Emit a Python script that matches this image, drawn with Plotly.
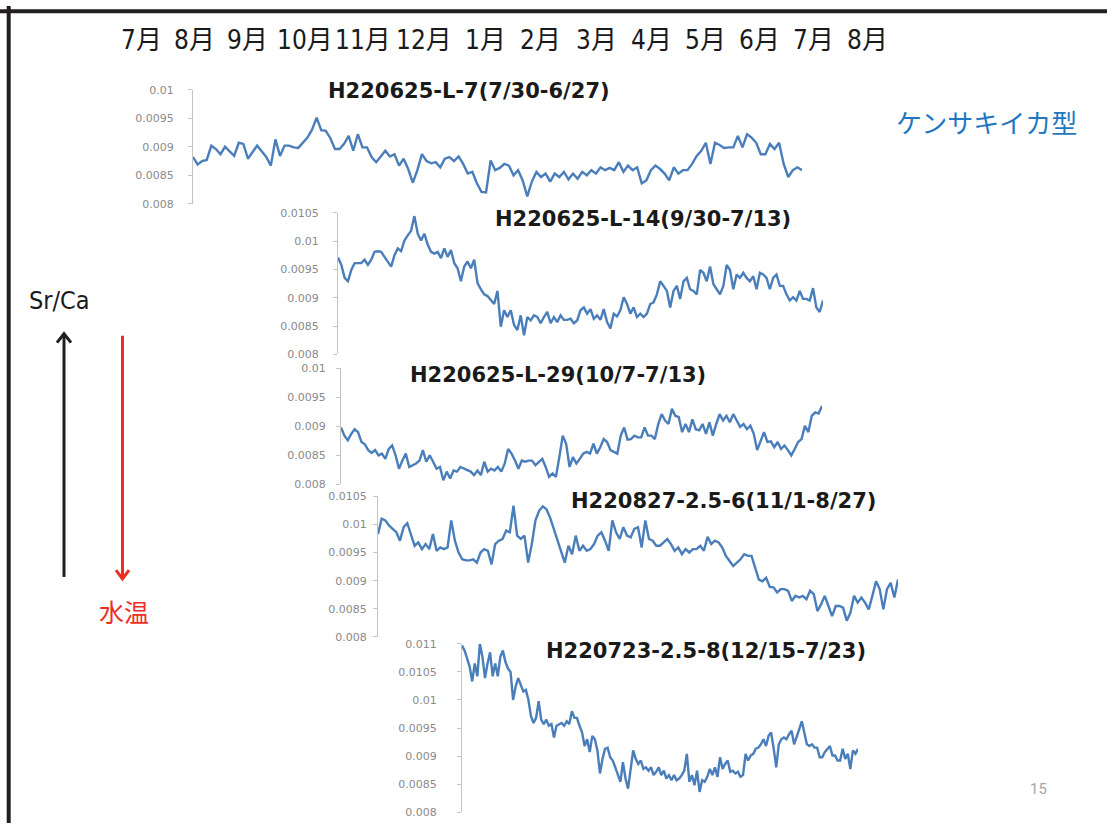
import plotly.graph_objects as go

W, H = 1107, 830

months = ["7月", "8月", "9月", "10月", "11月", "12月", "1月", "2月", "3月", "4月", "5月", "6月", "7月", "8月"]

titles = ["H220625-L-7(7/30-6/27)", "H220625-L-14(9/30-7/13)", "H220625-L-29(10/7-7/13)",
          "H220827-2.5-6(11/1-8/27)", "H220723-2.5-8(12/15-7/23)"]

tick_010 = [0.008, 0.0085, 0.009, 0.0095, 0.01]
tick_010_text = ["0.008", "0.0085", "0.009", "0.0095", "0.01"]
tick_0105 = [0.008, 0.0085, 0.009, 0.0095, 0.01, 0.0105]
tick_0105_text = ["0.008", "0.0085", "0.009", "0.0095", "0.01", "0.0105"]
tick_011 = [0.008, 0.0085, 0.009, 0.0095, 0.01, 0.0105, 0.011]
tick_011_text = ["0.008", "0.0085", "0.009", "0.0095", "0.01", "0.0105", "0.011"]

s1 = [0.00882, 0.00869, 0.00875, 0.00877, 0.00902, 0.00896, 0.00887, 0.00900, 0.00892, 0.00884,
      0.00907, 0.00905, 0.00879, 0.00890, 0.00902, 0.00892, 0.00882, 0.00867, 0.00913, 0.00884,
      0.00902, 0.00902, 0.00899, 0.00898, 0.00907, 0.00916, 0.00930, 0.00951, 0.00929, 0.00928,
      0.00915, 0.00896, 0.00896, 0.00905, 0.00919, 0.00893, 0.00922, 0.00899, 0.00899, 0.00882,
      0.00873, 0.00884, 0.00893, 0.00883, 0.00887, 0.00867, 0.00879, 0.00861, 0.00837, 0.00859,
      0.00887, 0.00875, 0.00871, 0.00873, 0.00864, 0.00879, 0.00882, 0.00875, 0.00883, 0.00870,
      0.00853, 0.00856, 0.00836, 0.00821, 0.00820, 0.00876, 0.00859, 0.00863, 0.00870, 0.00867,
      0.00850, 0.00859, 0.00841, 0.00813, 0.00839, 0.00856, 0.00847, 0.00853, 0.00839, 0.00853,
      0.00847, 0.00856, 0.00843, 0.00853, 0.00844, 0.00856, 0.00850, 0.00859, 0.00853, 0.00864,
      0.00859, 0.00863, 0.00859, 0.00873, 0.00856, 0.00867, 0.00859, 0.00864, 0.00836, 0.00841,
      0.00859, 0.00867, 0.00861, 0.00853, 0.00841, 0.00864, 0.00853, 0.00859, 0.00859, 0.00870,
      0.00884, 0.00893, 0.00907, 0.00870, 0.00907, 0.00903, 0.00898, 0.00899, 0.00899, 0.00919,
      0.00899, 0.00922, 0.00916, 0.00907, 0.00887, 0.00887, 0.00905, 0.00896, 0.00907, 0.00870,
      0.00847, 0.00859, 0.00864, 0.00859]

s2 = [0.00971, 0.00958, 0.00935, 0.00929, 0.00949, 0.00961, 0.00961, 0.00961, 0.00967, 0.00958,
      0.00967, 0.00981, 0.00982, 0.00981, 0.00972, 0.00964, 0.00955, 0.00975, 0.00987, 0.00982,
      0.01001, 0.01010, 0.01018, 0.01044, 0.01013, 0.01001, 0.01013, 0.00994, 0.00981, 0.00978,
      0.00981, 0.00970, 0.00987, 0.00972, 0.00984, 0.00961, 0.00952, 0.00929, 0.00955, 0.00964,
      0.00952, 0.00967, 0.00926, 0.00915, 0.00906, 0.00903, 0.00895, 0.00889, 0.00912, 0.00849,
      0.00878, 0.00866, 0.00878, 0.00852, 0.00843, 0.00869, 0.00834, 0.00866, 0.00860, 0.00869,
      0.00866, 0.00855, 0.00866, 0.00875, 0.00855, 0.00866, 0.00857, 0.00869, 0.00861, 0.00861,
      0.00863, 0.00855, 0.00860, 0.00878, 0.00883, 0.00872, 0.00880, 0.00863, 0.00869, 0.00861,
      0.00880, 0.00857, 0.00846, 0.00872, 0.00867, 0.00878, 0.00901, 0.00889, 0.00872, 0.00883,
      0.00866, 0.00872, 0.00866, 0.00872, 0.00889, 0.00892, 0.00906, 0.00929, 0.00921, 0.00912,
      0.00883, 0.00912, 0.00921, 0.00898, 0.00929, 0.00935, 0.00915, 0.00912, 0.00906, 0.00949,
      0.00944, 0.00929, 0.00955, 0.00924, 0.00915, 0.00906, 0.00921, 0.00958, 0.00949, 0.00915,
      0.00941, 0.00935, 0.00944, 0.00935, 0.00929, 0.00938, 0.00915, 0.00944, 0.00941, 0.00935,
      0.00915, 0.00935, 0.00941, 0.00921, 0.00921, 0.00906, 0.00895, 0.00901, 0.00895, 0.00912,
      0.00898, 0.00898, 0.00895, 0.00917, 0.00883, 0.00875, 0.00895]

s3 = [0.00898, 0.00884, 0.00876, 0.00887, 0.00895, 0.00890, 0.00873, 0.00869, 0.00859, 0.00854,
      0.00859, 0.00850, 0.00853, 0.00844, 0.00861, 0.00867, 0.00850, 0.00827, 0.00841, 0.00853,
      0.00830, 0.00833, 0.00836, 0.00841, 0.00859, 0.00839, 0.00850, 0.00839, 0.00827, 0.00830,
      0.00807, 0.00822, 0.00810, 0.00824, 0.00822, 0.00830, 0.00827, 0.00824, 0.00822, 0.00816,
      0.00824, 0.00816, 0.00839, 0.00822, 0.00827, 0.00824, 0.00830, 0.00822, 0.00836, 0.00861,
      0.00853, 0.00841, 0.00827, 0.00841, 0.00839, 0.00841, 0.00841, 0.00833, 0.00839, 0.00844,
      0.00830, 0.00813, 0.00819, 0.00813, 0.00847, 0.00884, 0.00870, 0.00830, 0.00847, 0.00836,
      0.00844, 0.00853, 0.00856, 0.00853, 0.00870, 0.00853, 0.00864, 0.00878, 0.00873, 0.00859,
      0.00856, 0.00853, 0.00884, 0.00898, 0.00877, 0.00878, 0.00884, 0.00881, 0.00881, 0.00898,
      0.00884, 0.00884, 0.00878, 0.00904, 0.00921, 0.00910, 0.00904, 0.00930, 0.00918, 0.00916,
      0.00890, 0.00904, 0.00890, 0.00912, 0.00895, 0.00893, 0.00904, 0.00887, 0.00907, 0.00884,
      0.00904, 0.00921, 0.00910, 0.00918, 0.00907, 0.00921, 0.00910, 0.00899, 0.00904, 0.00895,
      0.00901, 0.00887, 0.00859, 0.00873, 0.00890, 0.00873, 0.00874, 0.00864, 0.00873, 0.00861,
      0.00867, 0.00859, 0.00850, 0.00861, 0.00873, 0.00878, 0.00901, 0.00890, 0.00918, 0.00924,
      0.00922, 0.00935]

s4 = [0.00983, 0.01010, 0.01007, 0.00998, 0.00992, 0.00986, 0.00971, 0.00995, 0.01002, 0.00983,
      0.00962, 0.00968, 0.00956, 0.00965, 0.00956, 0.00983, 0.00953, 0.00959, 0.00956, 0.00959,
      0.01007, 0.00971, 0.00950, 0.00938, 0.00936, 0.00936, 0.00938, 0.00932, 0.00950, 0.00956,
      0.00953, 0.00929, 0.00965, 0.00971, 0.00974, 0.00989, 0.00986, 0.01033, 0.00980, 0.00974,
      0.00980, 0.00932, 0.00965, 0.01007, 0.01024, 0.01032, 0.01027, 0.01012, 0.00992, 0.00971,
      0.00953, 0.00932, 0.00962, 0.00947, 0.00980, 0.00953, 0.00962, 0.00953, 0.00956, 0.00965,
      0.00980, 0.00986, 0.00971, 0.00953, 0.01007, 0.00986, 0.00974, 0.00995, 0.00980, 0.00977,
      0.00992, 0.00995, 0.00959, 0.01007, 0.00974, 0.00971, 0.00962, 0.00962, 0.00968, 0.00974,
      0.00965, 0.00953, 0.00959, 0.00947, 0.00956, 0.00950, 0.00956, 0.00956, 0.00962, 0.00953,
      0.00978, 0.00965, 0.00971, 0.00968, 0.00959, 0.00944, 0.00935, 0.00926, 0.00932, 0.00938,
      0.00947, 0.00944, 0.00944, 0.00923, 0.00902, 0.00899, 0.00905, 0.00889, 0.00888, 0.00879,
      0.00885, 0.00885, 0.00882, 0.00864, 0.00873, 0.00870, 0.00873, 0.00867, 0.00882, 0.00876,
      0.00846, 0.00858, 0.00873, 0.00855, 0.00837, 0.00855, 0.00855, 0.00852, 0.00829, 0.00843,
      0.00873, 0.00861, 0.00870, 0.00861, 0.00849, 0.00873, 0.00899, 0.00885, 0.00849, 0.00885,
      0.00896, 0.00870, 0.00902]

s5 = [0.01097, 0.01088, 0.01074, 0.01059, 0.01033, 0.01065, 0.01042, 0.01100, 0.01077, 0.01039,
      0.01065, 0.01085, 0.01042, 0.01065, 0.01042, 0.01077, 0.01088, 0.01068, 0.01056, 0.01050,
      0.01000, 0.01024, 0.01039, 0.01027, 0.01015, 0.01018, 0.01000, 0.00971, 0.00959, 0.00968,
      0.00998, 0.00965, 0.00957, 0.00965, 0.00954, 0.00957, 0.00933, 0.00954, 0.00957, 0.00959,
      0.00954, 0.00962, 0.00957, 0.00980, 0.00968, 0.00968, 0.00954, 0.00942, 0.00918, 0.00930,
      0.00907, 0.00936, 0.00930, 0.00910, 0.00869, 0.00895, 0.00913, 0.00915, 0.00898, 0.00892,
      0.00880, 0.00866, 0.00854, 0.00889, 0.00860, 0.00842, 0.00877, 0.00910, 0.00895, 0.00886,
      0.00892, 0.00877, 0.00880, 0.00874, 0.00880, 0.00866, 0.00872, 0.00880, 0.00866, 0.00874,
      0.00860, 0.00866, 0.00857, 0.00866, 0.00857, 0.00860, 0.00866, 0.00874, 0.00904, 0.00854,
      0.00866, 0.00848, 0.00874, 0.00836, 0.00857, 0.00854, 0.00863, 0.00877, 0.00866, 0.00880,
      0.00863, 0.00898, 0.00877, 0.00886, 0.00892, 0.00872, 0.00874, 0.00869, 0.00872, 0.00863,
      0.00866, 0.00904, 0.00892, 0.00901, 0.00904, 0.00913, 0.00915, 0.00921, 0.00930, 0.00918,
      0.00936, 0.00942, 0.00913, 0.00880, 0.00921, 0.00930, 0.00933, 0.00930, 0.00939, 0.00945,
      0.00921, 0.00933, 0.00948, 0.00962, 0.00942, 0.00921, 0.00918, 0.00921, 0.00915, 0.00915,
      0.00898, 0.00898, 0.00907, 0.00913, 0.00918, 0.00901, 0.00901, 0.00892, 0.00892, 0.00913,
      0.00895, 0.00904, 0.00877, 0.00910, 0.00904, 0.00913]

series = [s1, s2, s3, s4, s5]
tickvals = [tick_010, tick_0105, tick_010, tick_0105, tick_011]
ticktexts = [tick_010_text, tick_0105_text, tick_010_text, tick_0105_text, tick_011_text]

# ---- layout (pixel geometry of each panel) ----
# (x_left, x_right, y_top, y_bottom, title_cx, title_cy, label_standoff)
geom = [
    (193, 802, 85, 201, 469, 86, 12),
    (338, 823, 210, 354, 643, 216, 12),
    (341, 822, 368, 486, 558, 375, 8),
    (378, 898, 498, 641, 723, 503, 4),
    (462, 858, 648, 819, 706, 655, 18),
]


def px(x):
    return x / W


def py(y):
    return 1 - y / H


fig = go.Figure()
annotations = []
LINE = "#4a7ebb"
for i, (s, g) in enumerate(zip(series, geom)):
    k = "" if i == 0 else str(i + 1)
    fig.add_trace(go.Scatter(x=list(range(len(s))), y=s, mode="lines",
                             line=dict(color=LINE, width=2.4),
                             xaxis="x" + k, yaxis="y" + k, showlegend=False,
                             hoverinfo="skip"))
    x0, x1, yt, yb, tcx, tcy, so = g
    fig.layout["xaxis" + k] = dict(domain=[px(x0), px(x1)], range=[0, len(s) - 1],
                                   visible=False, anchor="y" + k, fixedrange=True)
    fig.layout["yaxis" + k] = dict(domain=[py(yb), py(yt)],
                                   range=[tickvals[i][0], tickvals[i][-1]],
                                   anchor="x" + k, showgrid=False, zeroline=False,
                                   showline=True, linecolor="#c4c4c4", linewidth=1,
                                   ticks="outside", ticklen=4, tickcolor="#c4c4c4",
                                   tickvals=tickvals[i], ticktext=ticktexts[i],
                                   ticklabelstandoff=so,
                                   tickfont=dict(family="DejaVu Sans", size=11, color="#8a8a8a"),
                                   fixedrange=True)
    annotations.append(dict(text=titles[i], x=px(tcx), y=py(tcy), xref="paper", yref="paper",
                            showarrow=False, xanchor="center", yanchor="middle",
                            font=dict(family="DejaVu Sans", size=21, color="#1a1a1a",
                                      weight="bold")))

# month header
month_cx = [141, 194, 247, 305, 363, 424, 485, 540, 596, 651, 705, 759, 813, 867]
NARROW = "Liberation Sans Narrow, Arial Narrow, DejaVu Sans Condensed, Noto Sans CJK JP"
for m, cx in zip(months, month_cx):
    annotations.append(dict(text=m, x=px(cx), y=py(35), xref="paper", yref="paper",
                            showarrow=False, xanchor="center", yanchor="middle",
                            font=dict(family=NARROW, size=26, color="#1a1a1a")))

annotations += [
    dict(text="Sr/Ca", x=px(59), y=py(299), xref="paper", yref="paper", showarrow=False,
         xanchor="center", yanchor="middle", font=dict(family=NARROW, size=25, color="#1a1a1a")),
    dict(text="水温", x=px(124), y=py(615), xref="paper", yref="paper", showarrow=False,
         xanchor="center", yanchor="middle",
         font=dict(family="Noto Sans CJK JP", size=25, color="#ee2d24")),
    dict(text="ケンサキイカ型", x=px(986), y=py(117), xref="paper", yref="paper", showarrow=False,
         xanchor="center", yanchor="middle",
         font=dict(family="Noto Sans CJK JP", size=26, color="#1f78c1")),
    dict(text="15", x=px(1038), y=py(795), xref="paper", yref="paper", showarrow=False,
         xanchor="center", yanchor="middle",
         font=dict(family="Roboto, Liberation Sans", size=15, color="#a6a6a6")),
]

shapes = [
    # slide frame
    dict(type="line", xref="paper", yref="paper", x0=px(0), x1=px(W), y0=py(5.3), y1=py(5.3),
         line=dict(color="#231f20", width=4)),
    dict(type="line", xref="paper", yref="paper", x0=px(8.7), x1=px(8.7), y0=py(0), y1=py(H),
         line=dict(color="#231f20", width=4)),
    # black up arrow
    dict(type="line", xref="paper", yref="paper", x0=px(64), x1=px(64), y0=py(580), y1=py(334),
         line=dict(color="#231f20", width=3)),
    dict(type="path", xref="paper", yref="paper",
         path=f"M {px(57)} {py(342)} L {px(64)} {py(333)} L {px(71)} {py(342)}",
         line=dict(color="#231f20", width=3)),
    # red down arrow
    dict(type="line", xref="paper", yref="paper", x0=px(122.5), x1=px(122.5), y0=py(335), y1=py(581),
         line=dict(color="#ee2d24", width=3)),
    dict(type="path", xref="paper", yref="paper",
         path=f"M {px(116)} {py(573)} L {px(122.5)} {py(582)} L {px(129)} {py(573)}",
         line=dict(color="#ee2d24", width=3)),
]

fig.update_layout(width=W, height=H, margin=dict(l=0, r=0, t=0, b=0),
                  paper_bgcolor="white", plot_bgcolor="rgba(0,0,0,0)",
                  annotations=annotations, shapes=shapes, showlegend=False)

fig.write_html("out.html", config={"displayModeBar": False})
